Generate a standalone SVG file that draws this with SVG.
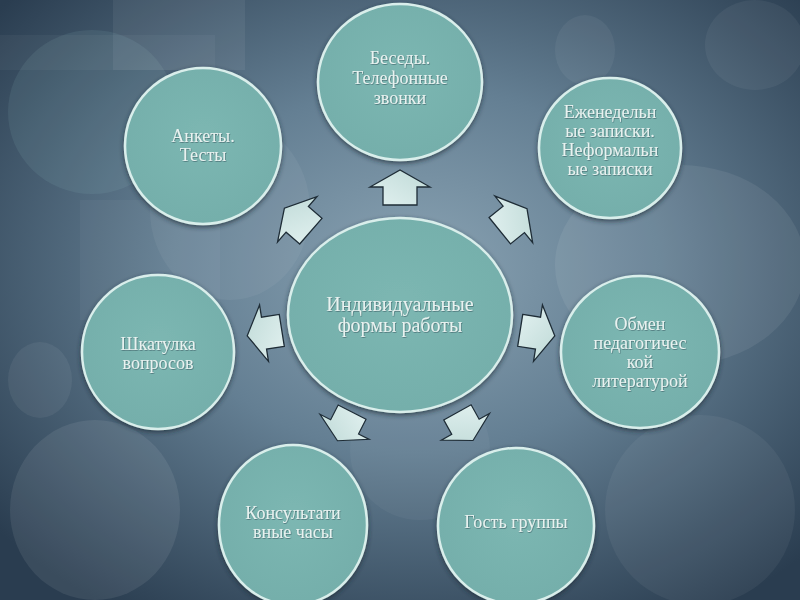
<svg xmlns="http://www.w3.org/2000/svg" width="800" height="600" viewBox="0 0 800 600">
  <defs>
    <radialGradient id="bg" cx="52%" cy="45%" r="68%">
      <stop offset="0" stop-color="#8aa3b3"/>
      <stop offset="0.45" stop-color="#647f93"/>
      <stop offset="1" stop-color="#2a3d50"/>
    </radialGradient>
    <radialGradient id="nodeFill" cx="50%" cy="45%" r="60%">
      <stop offset="0" stop-color="#7cb7b2"/>
      <stop offset="1" stop-color="#74aeaa"/>
    </radialGradient>
    <linearGradient id="arrFill" x1="0" y1="0" x2="1" y2="1">
      <stop offset="0" stop-color="#e2f1f0"/>
      <stop offset="1" stop-color="#bfdad7"/>
    </linearGradient>
    <filter id="shadow" x="-20%" y="-20%" width="140%" height="140%">
      <feDropShadow dx="0" dy="2" stdDeviation="2.5" flood-color="#1b2a36" flood-opacity="0.7"/>
    </filter>
    <filter id="tshadow" x="-10%" y="-20%" width="120%" height="140%">
      <feDropShadow dx="0.6" dy="0.8" stdDeviation="0.5" flood-color="#2c4a52" flood-opacity="0.6"/>
    </filter>
    <polygon id="arr" points="-17,-17 1,-17 1,-30 18,0 1,30 1,17 -17,17"/>
  </defs>
  <style>
    .node ellipse { fill: url(#nodeFill); stroke: #d9eeeb; stroke-width: 2.5; filter: url(#shadow); }
    .node text { font-family: "Liberation Serif", "DejaVu Serif", serif; font-size: 18px; fill: #e8f2f0; text-anchor: middle; filter: url(#tshadow); }
    #node-center text { font-size: 20px; }
    .conn use { fill: url(#arrFill); stroke: #1e2c36; stroke-width: 1.3; stroke-linejoin: miter; }
    .deco { fill: #ffffff; }
  </style>

  <rect width="800" height="600" fill="url(#bg)"/>
  <g id="background-deco">
    <ellipse class="deco" cx="92" cy="112" rx="84" ry="82" fill-opacity="0.1" style="fill:#9fd0d0"/>
    <rect class="deco" x="113" y="0" width="132" height="70" fill-opacity="0.06"/>
    <rect class="deco" x="0" y="35" width="215" height="35" fill-opacity="0.04"/>
    <rect class="deco" x="80" y="200" width="140" height="120" fill-opacity="0.04"/>
    <ellipse class="deco" cx="680" cy="265" rx="125" ry="100" fill-opacity="0.07"/>
    <ellipse class="deco" cx="755" cy="45" rx="50" ry="45" fill-opacity="0.05"/>
    <ellipse class="deco" cx="95" cy="510" rx="85" ry="90" fill-opacity="0.08"/>
    <ellipse class="deco" cx="40" cy="380" rx="32" ry="38" fill-opacity="0.06"/>
    <ellipse class="deco" cx="700" cy="510" rx="95" ry="95" fill-opacity="0.05"/>
    <ellipse class="deco" cx="585" cy="50" rx="30" ry="35" fill-opacity="0.05"/>
    <ellipse class="deco" cx="230" cy="210" rx="80" ry="90" fill-opacity="0.05"/>
    <ellipse class="deco" cx="420" cy="450" rx="70" ry="70" fill-opacity="0.04"/>
  </g>

  <g id="connectors" class="conn">
    <use href="#arr" transform="translate(400,188) rotate(-90)"/>
    <use href="#arr" transform="translate(298,220) rotate(-139)"/>
    <use href="#arr" transform="translate(513,220) rotate(-39)"/>
    <use href="#arr" transform="translate(265,333) rotate(171) scale(1,0.95)"/>
    <use href="#arr" transform="translate(537,333) rotate(9) scale(1,0.95)"/>
    <use href="#arr" transform="translate(345,426) rotate(117) scale(0.92)"/>
    <use href="#arr" transform="translate(465,426) rotate(61) scale(0.92)"/>
  </g>

  <g id="node-center" class="node">
    <ellipse cx="400" cy="315" rx="112" ry="97"/>
    <text x="400" y="311">Индивидуальные</text>
    <text x="400" y="332">формы работы</text>
  </g>
  <g id="node-top" class="node">
    <ellipse cx="400" cy="82" rx="82" ry="78"/>
    <text x="400" y="64">Беседы.</text>
    <text x="400" y="84">Телефонные</text>
    <text x="400" y="104">звонки</text>
  </g>
  <g id="node-top-left" class="node">
    <ellipse cx="203" cy="146" rx="78" ry="78"/>
    <text x="203" y="142">Анкеты.</text>
    <text x="203" y="161">Тесты</text>
  </g>
  <g id="node-top-right" class="node">
    <ellipse cx="610" cy="148" rx="71" ry="70"/>
    <text x="610" y="118">Еженедельн</text>
    <text x="610" y="137">ые записки.</text>
    <text x="610" y="156">Неформальн</text>
    <text x="610" y="175">ые записки</text>
  </g>
  <g id="node-left" class="node">
    <ellipse cx="158" cy="352" rx="76" ry="77"/>
    <text x="158" y="350">Шкатулка</text>
    <text x="158" y="369">вопросов</text>
  </g>
  <g id="node-right" class="node">
    <ellipse cx="640" cy="352" rx="79" ry="76"/>
    <text x="640" y="330">Обмен</text>
    <text x="640" y="349">педагогичес</text>
    <text x="640" y="368">кой</text>
    <text x="640" y="387">литературой</text>
  </g>
  <g id="node-bottom-left" class="node">
    <ellipse cx="293" cy="525" rx="74" ry="80"/>
    <text x="293" y="519">Консультати</text>
    <text x="293" y="538">вные часы</text>
  </g>
  <g id="node-bottom-right" class="node">
    <ellipse cx="516" cy="526" rx="78" ry="78"/>
    <text x="516" y="528">Гость группы</text>
  </g>
</svg>
